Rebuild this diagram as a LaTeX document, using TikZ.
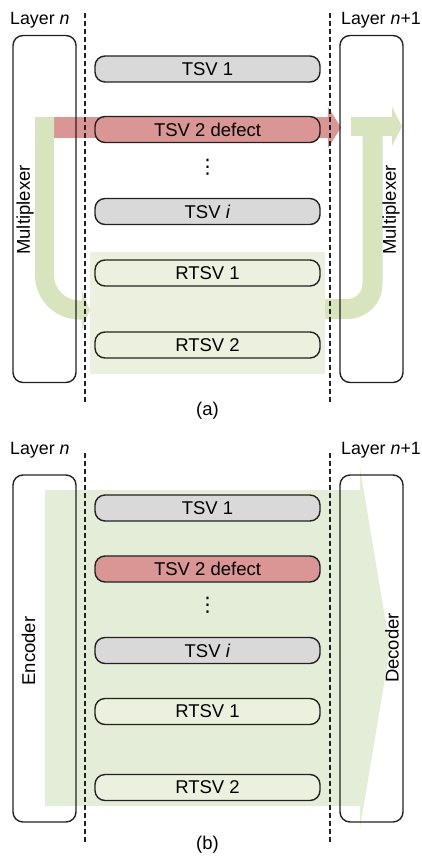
\documentclass[tikz,border=0pt]{standalone}
\usepackage{fontspec}
\setmainfont{Liberation Sans}
\newfontfamily\symfont{DejaVu Sans}
\definecolor{ink}{HTML}{222222}
\definecolor{tsvgray}{HTML}{D9D9D9}
\definecolor{defectred}{HTML}{D99694}
\definecolor{routegreen}{HTML}{D7E4BD}
\definecolor{sparegreen}{HTML}{EBF1DE}
\definecolor{codegreen}{HTML}{E3EDD8}

\begin{document}
\begin{tikzpicture}[x=1pt,y=-1pt,
  font=\fontsize{18.5}{22}\selectfont,
  via/.style={draw=ink, line width=1.4pt, rounded corners=10pt,
    minimum width=225pt, minimum height=26pt, inner sep=0pt},
  unitbox/.style={draw=ink, line width=1.4pt, rounded corners=10pt,
    minimum width=63pt, minimum height=347pt, inner sep=0pt},
  layerline/.style={draw=ink, line width=1.3pt, dash pattern=on 5pt off 3pt},
  layerlabel/.style={inner sep=0pt, font=\fontsize{17.8}{21}\selectfont},
  unitlabel/.style={rotate=90, inner sep=0pt},
  ellipsis/.style={inner sep=0pt, font=\symfont\fontsize{20}{22}\selectfont},
  caption/.style={inner sep=0pt}]
\useasboundingbox (0,0) rectangle (422,857);

% ---------------- (a) multiplexer based repair ----------------
% spare TSV area
\fill[sparegreen] (90,252) rectangle (325,374);
% blocked path through the defective TSV
\fill[defectred] (35,117) rectangle (328,138);
\fill[defectred] (328,107) -- (341,127.5) -- (328,148) -- cycle;
% rerouted path into the spare TSV
\draw[routegreen, line width=19pt, rounded corners=35pt]
  (44.5,117) -- (44.5,310) -- (82,310);
\fill[routegreen] (82,291) -- (90,310) -- (82,329) -- cycle;
% rerouted path out of the spare TSV
\draw[routegreen, line width=20pt, rounded corners=25pt]
  (325,309) -- (372.5,309) -- (372.5,126);
\fill[routegreen] (351,117) rectangle (392,136);
\fill[routegreen] (392,107) -- (402,126.5) -- (392,146) -- cycle;

\draw[layerline] (85,13) -- (85,403);
\draw[layerline] (330,13) -- (330,403);

\node[unitbox] (muxL) at (44.5,209) {};
\node[unitbox] (muxR) at (371.5,209) {};
\node[unitlabel] (muxLtxt) at (25,210) {Multiplexer};
\node[unitlabel] (muxRtxt) at (391,210) {Multiplexer};

\node[via, fill=tsvgray]   (a1)  at (207.5,69)    {TSV 1};
\node[via, fill=defectred] (a2)  at (207.5,129.5) {TSV 2 defect};
\node[ellipsis]            (adots) at (207.5,167) {⋮};
\node[via, fill=tsvgray]   (ai)  at (207.5,211.5) {TSV \textit{i}};
\node[via, fill=sparegreen] (ar1) at (207.5,273)  {RTSV 1};
\node[via, fill=sparegreen] (ar2) at (207.5,345)  {RTSV 2};

\node[layerlabel, anchor=base west] (aLn)  at (10,24.5)  {Layer \textit{n}};
\node[layerlabel, anchor=base east] (aLn1) at (421,24.5) {Layer \textit{n}+1};
\node[caption] (capa) at (207.5,411) {(a)};

% ---------------- (b) encoder / decoder coding ----------------
\fill[codegreen] (45,490) -- (360,490) -- (360,468) -- (390,648)
  -- (360,828) -- (360,806) -- (45,806) -- cycle;

\draw[layerline] (85,453) -- (85,842);
\draw[layerline] (330,453) -- (330,842);

\node[unitbox] (enc) at (44.5,648.5) {};
\node[unitbox] (dec) at (371.5,648.5) {};
\node[unitlabel] (enctxt) at (28.5,651) {Encoder};
\node[unitlabel] (dectxt) at (392,648) {Decoder};

\node[via, fill=tsvgray]   (b1)  at (207.5,508)   {TSV 1};
\node[via, fill=defectred] (b2)  at (207.5,569)   {TSV 2 defect};
\node[ellipsis]            (bdots) at (207.5,605) {⋮};
\node[via, fill=tsvgray]   (bi)  at (207.5,650.5) {TSV \textit{i}};
\node[via, fill=sparegreen] (br1) at (207.5,711.5) {RTSV 1};
\node[via, fill=sparegreen] (br2) at (207.5,787.5) {RTSV 2};

\node[layerlabel, anchor=base west] (bLn)  at (10,454)  {Layer \textit{n}};
\node[layerlabel, anchor=base east] (bLn1) at (421,454) {Layer \textit{n}+1};
\node[caption] (capb) at (207.5,845) {(b)};
\end{tikzpicture}
\end{document}
